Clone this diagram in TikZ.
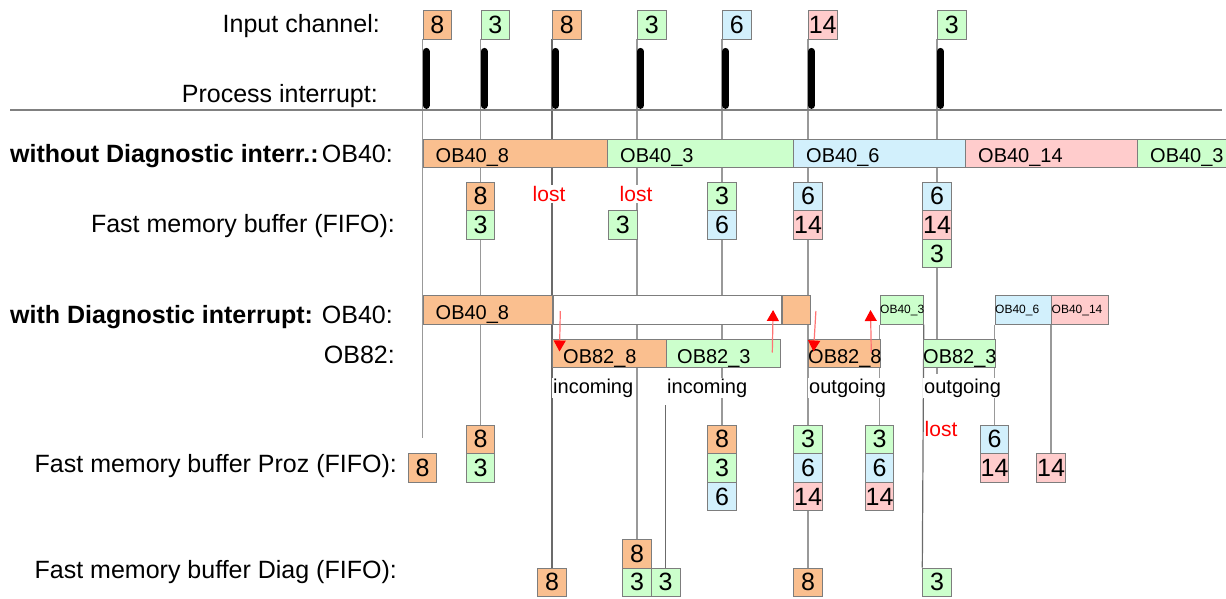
\documentclass[tikz,border=0pt]{standalone}
\usepackage{fontspec}
\setmainfont{Liberation Sans}
\usetikzlibrary{arrows.meta,positioning,backgrounds}

\definecolor{obor}{RGB}{250,191,143}
\definecolor{obgr}{RGB}{204,255,204}
\definecolor{obbl}{RGB}{210,240,252}
\definecolor{obpk}{RGB}{255,204,204}
\definecolor{boxedge}{RGB}{125,125,125}
\newcommand{\fbig}{\fontsize{25}{30}\selectfont}
\newcommand{\fmid}{\fontsize{20}{24}\selectfont}
\newcommand{\fsml}{\fontsize{12}{14}\selectfont}

\begin{document}
\begin{tikzpicture}[
    x=1pt, y=-1pt,
    cell/.style={draw=boxedge, line width=0.8pt, minimum width=28.6pt, minimum height=28.6pt, inner sep=0pt, font=\fbig},
    seg/.style={draw=boxedge, line width=0.8pt, minimum height=28.4pt, inner sep=0pt, anchor=west},
    segtxt/.style={anchor=base west, inner sep=0pt, font=\fmid},
    rowlbl/.style={anchor=base east, inner sep=0pt, font=\fbig},
    grouplbl/.style={anchor=base west, inner sep=0pt, font=\fbig\bfseries},
    tl/.style={draw=black!40, line width=1.2pt},
    tld/.style={draw=black!58, line width=1.2pt},
    pint/.style={line width=7pt, line cap=round},
    lostlbl/.style={text=red, font=\fontsize{21}{25}\selectfont, inner sep=1pt},
    evlbl/.style={anchor=base west, font=\fmid, fill=white, inner sep=1pt},
    rarr/.style={-{Triangle[width=12pt,length=11pt,color=red]}, draw=red!55, line width=1.2pt}
]
\useasboundingbox (0,0) rectangle (1226,599);

% row labels
\node[rowlbl]   (lin) at (380,33)  {Input channel:};
\node[rowlbl]   (lpi) at (378,103) {Process interrupt:};
\node[grouplbl] (gwo) at (10,163)  {without Diagnostic interr.:};
\node[rowlbl]   (lwo) at (393,163) {OB40:};
\node[rowlbl]   (lfw) at (395,232) {Fast memory buffer (FIFO):};
\node[grouplbl] (gwd) at (10,323)  {with Diagnostic interrupt:};
\node[rowlbl]   (lwd) at (393,323) {OB40:};
\node[rowlbl]   (l82) at (395,363) {OB82:};
\node[rowlbl]   (lpz) at (397,472) {Fast memory buffer Proz (FIFO):};
\node[rowlbl]   (ldg) at (397,578) {Fast memory buffer Diag (FIFO):};

\draw[black!50, line width=1.5pt] (10,110) -- (1222,110);

% input channel and process interrupts
\foreach \n/\x/\c/\t in {1/422.5/obor/8, 2/480.5/obgr/3, 3/552/obor/8, 4/637/obgr/3,
                         5/722/obbl/6, 6/808/obpk/14, 7/937/obgr/3} {
    \node[cell, fill=\c, anchor=north west] (in\n) at (\x,10) {\t};
    \draw[pint] ([xshift=3.5pt,yshift=-12pt]in\n.south west) -- ++(0,54);
}

% without diagnostic interrupt
\foreach \n/\x/\w/\c/\t in {a/422.5/184.5/obor/OB40\_8, b/607/186/obgr/OB40\_3,
        c/793/172/obbl/OB40\_6, d/965/172/obpk/OB40\_14, e/1137/110/obgr/OB40\_3} {
    \node[seg, fill=\c, minimum width=\w] (wo\n) at (\x,153.5) {};
    \node[segtxt] (two\n) at ([xshift=13pt,yshift=-8.5pt]wo\n.west) {\t};
}
\foreach \n/\x/\r/\c/\t in {1a/480.5/0/obor/8, 1b/480.5/1/obgr/3, 2/622.7/1/obgr/3,
        3a/722/0/obgr/3, 3b/722/1/obbl/6, 4a/808/0/obbl/6, 4b/808/1/obpk/14,
        5a/937/0/obbl/6, 5b/937/1/obpk/14, 5c/937/2/obgr/3}
    \node[cell, fill=\c] (fw\n) at (\x,196.3+28.6*\r) {\t};
\node[lostlbl, fill=white] (lost1) at (549,194) {lost};
\node[lostlbl, fill=white] (lost2) at (636,194) {lost};

% with diagnostic interrupt
\node[seg, fill=obor, minimum width=129.5] (d40a) at (422.5,310) {};
\node[segtxt] (td40a) at ([xshift=13pt,yshift=-9pt]d40a.west) {OB40\_8};
\node[seg, fill=white, minimum width=228, right=0pt of d40a] (d40w) {};
\node[seg, fill=obor, minimum width=28, right=0pt of d40w] (d40o) {};
\foreach \n/\x/\w/\c/\t in {c/879.5/43.5/obgr/OB40\_3, d/994.5/56.5/obbl/OB40\_6,
        e/1051/57/obpk/OB40\_14} {
    \node[seg, fill=\c, minimum width=\w] (d40\n) at (\x,310) {};
    \node[segtxt, font=\fsml] (td40\n) at ([xshift=0.5pt,yshift=-3.5pt]d40\n.west) {\t};
}
\foreach \n/\x/\w/\c/\t/\p/\e in {a/552/114/obor/OB82\_8/11/incoming, b/666/114/obgr/OB82\_3/11/incoming,
        c/808/71.5/obor/OB82\_8/0/outgoing, d/923/71.5/obgr/OB82\_3/0/outgoing} {
    \node[seg, fill=\c, minimum width=\w] (o82\n) at (\x,353.5) {};
    \node[segtxt] (to82\n) at ([xshift=\p pt,yshift=-9.5pt]o82\n.west) {\t};
    \node[evlbl] (ev\n) at ([yshift=-25pt]o82\n.south west) {\e};
}
\draw[rarr] ([xshift=7.5pt,yshift=-1pt]d40w.west) -- ([xshift=7.5pt,yshift=2pt]o82a.west);
\draw[rarr] ([xshift=-8.5pt,yshift=1pt]o82b.east) -- ([xshift=-8.5pt]d40w.east);
\draw[rarr] ([xshift=5.5pt,yshift=-1pt]d40o.east) -- ([xshift=5.5pt,yshift=2pt]o82c.west);
\draw[rarr] ([xshift=-9pt,yshift=1pt]o82c.east) -- ([xshift=-9pt]d40c.west);

% buffers Proz and Diag
\foreach \n/\x/\r/\c/\t in {1/422.5/1/obor/8, 2a/480.5/0/obor/8, 2b/480.5/1/obgr/3,
        3a/722/0/obor/8, 3b/722/1/obgr/3, 3c/722/2/obbl/6,
        4a/808/0/obgr/3, 4b/808/1/obbl/6, 4c/808/2/obpk/14,
        5a/879.5/0/obgr/3, 5b/879.5/1/obbl/6, 5c/879.5/2/obpk/14,
        6a/994.5/0/obbl/6, 6b/994.5/1/obpk/14, 7/1051/1/obpk/14}
    \node[cell, fill=\c] (pz\n) at (\x,439.3+28.6*\r) {\t};
\node[lostlbl, anchor=base west] (lost3) at (923.5,436) {lost};
\foreach \n/\x/\r/\c/\t in {1/552/1/obor/8, 2a/637/0/obor/8, 2b/637/1/obgr/3,
        3/665.6/1/obgr/3, 4/808/1/obor/8, 5/937/1/obgr/3}
    \node[cell, fill=\c] (dg\n) at (\x,553.7+28.6*\r) {\t};

% time lines
\begin{scope}[on background layer]
    \coordinate (e1) at (422.5,438);
    \coordinate (e7) at (937,374);
    \coordinate (s3) at (665.6,405);
    \draw[tl]  (in1.south west) -- (e1);
    \draw[tl]  (in2.south west) -- (pz2a.north);
    \draw[tld] (in3.south west) -- (dg1.north);
    \draw[tl]  (in4.south west) -- (dg2a.north);
    \draw[tl]  (in5.south west) -- (pz3a.north);
    \draw[tl]  (in6.south west) -- (dg4.north);
    \draw[tl]  (in7.south west) -- (e7);
    \draw[tld] (s3) -- (dg3.north);
    \draw[tl]  (d40c.south west) -- (pz5a.north);
    \draw[tld] (d40c.south east) -- (dg5.north west);
    \draw[tl]  (d40d.south west) -- (pz6a.north);
    \draw[tl]  (d40e.south west) -- (pz7.north);
\end{scope}
\end{tikzpicture}
\end{document}
